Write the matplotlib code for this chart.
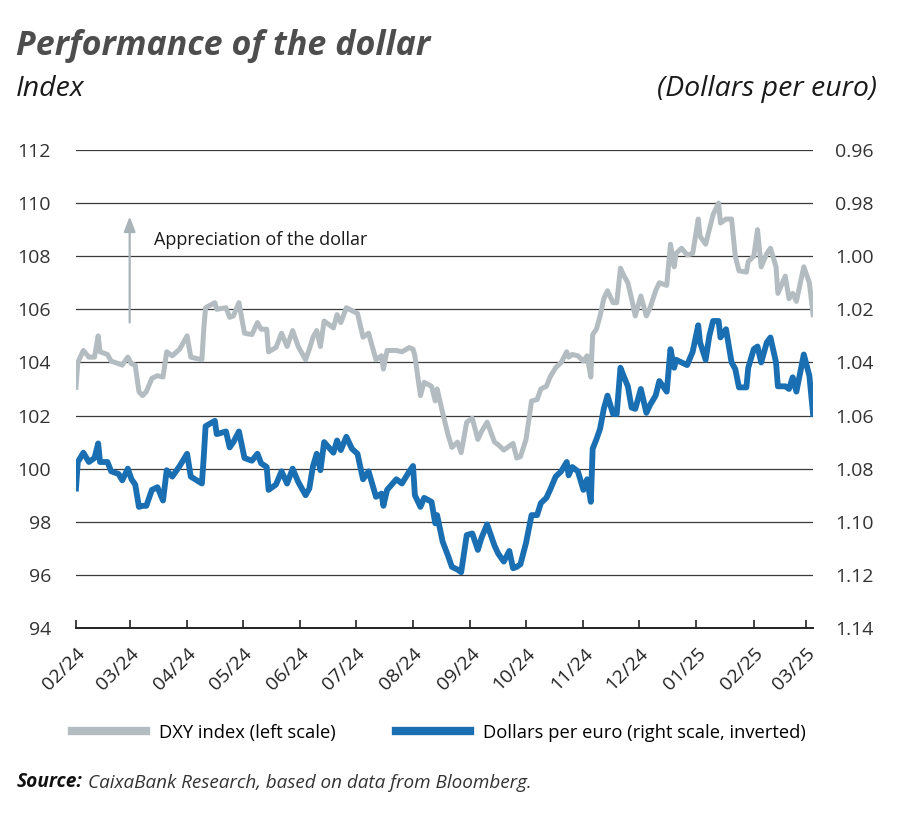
import pandas as pd
import matplotlib.pyplot as plt
import matplotlib.dates as mdates
from matplotlib.lines import Line2D

plt.rcParams['font.family'] = ['Open Sans', 'DejaVu Sans']

# values
dates = [
    '2024-02-01', '2024-02-02', '2024-02-05', '2024-02-08', '2024-02-11', '2024-02-13', '2024-02-14', '2024-02-18', '2024-02-20', '2024-02-24', '2024-02-26', '2024-02-29',
    '2024-03-02', '2024-03-04', '2024-03-06', '2024-03-08', '2024-03-10', '2024-03-13', '2024-03-16', '2024-03-19', '2024-03-21', '2024-03-24', '2024-03-28',
    '2024-04-01', '2024-04-03', '2024-04-09', '2024-04-10', '2024-04-11', '2024-04-16', '2024-04-17', '2024-04-22', '2024-04-24', '2024-04-26', '2024-04-29',
    '2024-05-02', '2024-05-06', '2024-05-09', '2024-05-11', '2024-05-14', '2024-05-15', '2024-05-19', '2024-05-22', '2024-05-25', '2024-05-28', '2024-05-31',
    '2024-06-04', '2024-06-06', '2024-06-08', '2024-06-10', '2024-06-12', '2024-06-14', '2024-06-19', '2024-06-21', '2024-06-23', '2024-06-26', '2024-06-29',
    '2024-07-02', '2024-07-05', '2024-07-08', '2024-07-12', '2024-07-15', '2024-07-16', '2024-07-18', '2024-07-23', '2024-07-26', '2024-07-30',
    '2024-08-01', '2024-08-02', '2024-08-05', '2024-08-07', '2024-08-11', '2024-08-13', '2024-08-14', '2024-08-17', '2024-08-20', '2024-08-22', '2024-08-25', '2024-08-27', '2024-08-30',
    '2024-09-02', '2024-09-05', '2024-09-07', '2024-09-10', '2024-09-14', '2024-09-16', '2024-09-19', '2024-09-22', '2024-09-24', '2024-09-26', '2024-09-28',
    '2024-10-01', '2024-10-04', '2024-10-07', '2024-10-09', '2024-10-12', '2024-10-14', '2024-10-17', '2024-10-20', '2024-10-23', '2024-10-24', '2024-10-26', '2024-10-29',
    '2024-11-01', '2024-11-03', '2024-11-05', '2024-11-06', '2024-11-08', '2024-11-10', '2024-11-12', '2024-11-14', '2024-11-17', '2024-11-19', '2024-11-21', '2024-11-23', '2024-11-25', '2024-11-27', '2024-11-29',
    '2024-12-02', '2024-12-05', '2024-12-07', '2024-12-10', '2024-12-12', '2024-12-16', '2024-12-18', '2024-12-20', '2024-12-21', '2024-12-24', '2024-12-27', '2024-12-30',
    '2025-01-02', '2025-01-03', '2025-01-06', '2025-01-08', '2025-01-10', '2025-01-13', '2025-01-14', '2025-01-17', '2025-01-20', '2025-01-22', '2025-01-24', '2025-01-28', '2025-01-29',
    '2025-02-01', '2025-02-03', '2025-02-05', '2025-02-08', '2025-02-10', '2025-02-13', '2025-02-14', '2025-02-18', '2025-02-20', '2025-02-22', '2025-02-24', '2025-02-28',
    '2025-03-03', '2025-03-05',
]

dxy = [
    103.06, 104.0, 104.45, 104.2, 104.2, 105.0, 104.4, 104.3, 104.05, 103.95, 103.9, 104.2,
    103.95, 103.9, 102.9, 102.75, 102.9, 103.4, 103.5, 103.45, 104.4, 104.25, 104.5,
    105.0, 104.2, 104.1, 105.25, 106.06, 106.25, 106.0, 106.06, 105.7, 105.75, 106.25,
    105.1, 105.05, 105.5, 105.25, 105.25, 104.4, 104.56, 105.1, 104.6, 105.2, 104.6,
    104.1, 104.5, 104.95, 105.2, 104.6, 105.56, 105.3, 105.8, 105.5, 106.06, 105.95,
    105.85, 104.95, 105.1, 104.1, 104.25, 103.75, 104.45, 104.45, 104.4, 104.56,
    104.5, 104.25, 102.75, 103.25, 103.1, 102.55, 103.0, 102.1, 101.25, 100.8, 101.0, 100.6, 101.75,
    101.9, 101.1, 101.4, 101.75, 101.0, 100.9, 100.7, 100.85, 100.95, 100.4, 100.45,
    101.1, 102.55, 102.6, 103.0, 103.1, 103.45, 103.8, 104.0, 104.4, 104.2, 104.3, 104.25,
    104.05, 104.25, 103.45, 105.05, 105.25, 105.75, 106.4, 106.7, 106.25, 106.25, 107.55, 107.25, 107.0, 106.4, 105.75,
    106.5, 105.75, 106.06, 106.7, 107.0, 106.9, 108.45, 107.6, 108.1, 108.3, 108.05, 108.1,
    109.4, 108.75, 108.45, 109.0, 109.56, 110.0, 109.25, 109.4, 109.4, 108.0, 107.45, 107.4, 107.8,
    108.0, 109.0, 107.6, 108.1, 108.3, 107.6, 106.6, 107.25, 106.4, 106.6, 106.3, 107.6,
    107.0, 105.8,
]

eurusd = [
    1.0875, 1.0775, 1.074, 1.0775, 1.076, 1.0705, 1.0775, 1.0775, 1.081, 1.082, 1.0844, 1.080,
    1.084, 1.086, 1.0944, 1.094, 1.094, 1.088, 1.087, 1.092, 1.0806, 1.083, 1.079,
    1.0744, 1.083, 1.0856, 1.0756, 1.064, 1.062, 1.067, 1.066, 1.072, 1.070, 1.066,
    1.076, 1.077, 1.0744, 1.078, 1.0794, 1.088, 1.086, 1.081, 1.0856, 1.080, 1.085,
    1.090, 1.0875, 1.079, 1.0744, 1.0806, 1.070, 1.074, 1.0694, 1.073, 1.068, 1.0725,
    1.0744, 1.084, 1.081, 1.0906, 1.0894, 1.094, 1.088, 1.084, 1.0856, 1.081,
    1.079, 1.090, 1.0944, 1.091, 1.0925, 1.1006, 1.0975, 1.1075, 1.113, 1.117, 1.118, 1.119, 1.105,
    1.1044, 1.1106, 1.106, 1.101, 1.109, 1.112, 1.115, 1.111, 1.1175, 1.117, 1.116,
    1.108, 1.0975, 1.0975, 1.093, 1.091, 1.088, 1.083, 1.081, 1.0775, 1.0825, 1.0794, 1.081,
    1.088, 1.084, 1.0925, 1.0725, 1.069, 1.065, 1.0575, 1.0525, 1.0594, 1.0594, 1.042, 1.0456, 1.049, 1.057, 1.0575,
    1.050, 1.059, 1.056, 1.0525, 1.047, 1.051, 1.035, 1.042, 1.039, 1.040, 1.041, 1.036,
    1.026, 1.0325, 1.039, 1.030, 1.0244, 1.0244, 1.0306, 1.0275, 1.040, 1.0425, 1.0494, 1.0494, 1.042,
    1.035, 1.034, 1.040, 1.0325, 1.0306, 1.040, 1.049, 1.049, 1.050, 1.0456, 1.051, 1.037,
    1.045, 1.0594,
]

gray = '#b3bdc1'
blue = '#1a6fb3'
text_gray = '#4d4d4d'

df = pd.DataFrame({'date': pd.to_datetime(dates), 'dxy': dxy, 'eurusd': eurusd})

fig = plt.figure(figsize=(9, 8.3), dpi=100)
ax = fig.add_axes([0.0844, 0.2434, 0.819, 0.5759])
ax2 = ax.twinx()

ax.plot(df['date'], df['dxy'], color=gray, lw=3.6, solid_joinstyle='round')
ax2.plot(df['date'], df['eurusd'], color=blue, lw=4.2, solid_joinstyle='round')

ax.set_xlim(pd.Timestamp('2024-02-01'), pd.Timestamp('2025-03-05'))
ax.set_ylim(94, 112)
ax.set_yticks(range(94, 113, 2))
ax2.set_ylim(1.14, 0.96)
ax2.set_yticks([0.96, 0.98, 1.00, 1.02, 1.04, 1.06, 1.08, 1.10, 1.12, 1.14])
ax2.set_yticklabels([f'{v:.2f}' for v in ax2.get_yticks()])

for y in range(96, 113, 2):
    ax.axhline(y, color='#3a3a3a', lw=0.9, zorder=0)

for a in (ax, ax2):
    for s in ('top', 'left', 'right', 'bottom'):
        a.spines[s].set_visible(False)
ax.spines['bottom'].set_visible(True)
ax.spines['bottom'].set_color('#222222')
ax.spines['bottom'].set_linewidth(1.4)

ax.xaxis.set_major_locator(mdates.MonthLocator())
ax.xaxis.set_major_formatter(mdates.DateFormatter('%m/%y'))
ax.tick_params(axis='x', direction='in', length=6, width=1.2, color='#222222',
               labelsize=14, pad=12, labelcolor='#222222')
for lbl in ax.get_xticklabels():
    lbl.set_rotation(45)
    lbl.set_ha('right')
    lbl.set_rotation_mode('anchor')
ax.tick_params(axis='y', length=0, pad=18, labelsize=14, labelcolor='#333333')
ax2.tick_params(axis='y', length=0, pad=16, labelsize=14, labelcolor='#333333')

# appreciation arrow
ax.annotate('', xy=(pd.Timestamp('2024-03-01'), 109.6), xytext=(pd.Timestamp('2024-03-01'), 105.4),
            arrowprops=dict(arrowstyle='-|>,head_width=0.35,head_length=0.9', color='#a9b4b8', lw=1.6))
ax.text(pd.Timestamp('2024-03-14'), 108.6, 'Appreciation of the dollar', fontsize=13,
        va='center', ha='left', color='#1a1a1a')

# titles
fig.text(0.018, 0.934, 'Performance of the dollar', fontsize=24.5, fontweight='bold',
         style='italic', color=text_gray, va='baseline')
fig.text(0.018, 0.884, 'Index', fontsize=20.5, style='italic', color='#1a1a1a', va='baseline')
fig.text(0.974, 0.884, '(Dollars per euro)', fontsize=20.5, style='italic', color='#1a1a1a',
         va='baseline', ha='right')

handles = [Line2D([], [], color=gray, lw=6), Line2D([], [], color=blue, lw=6)]
fig.legend(handles, ['DXY index (left scale)', 'Dollars per euro (right scale, inverted)'],
           loc='center', bbox_to_anchor=(0.488, 0.117), ncol=2, frameon=False,
           fontsize=13.2, handlelength=4.0, columnspacing=3.3, handletextpad=0.75)

src = fig.text(0.018, 0.052, 'Source:', fontsize=13.8, fontweight='bold', style='italic',
               color='#111111', va='baseline')
ax.annotate('CaixaBank Research, based on data from Bloomberg.', xy=(1, 0), xycoords=src,
            xytext=(4, 0), textcoords='offset points', fontsize=13.6, style='italic',
            color='#333333', va='bottom', annotation_clip=False)

fig.savefig('out.png', dpi=100)
